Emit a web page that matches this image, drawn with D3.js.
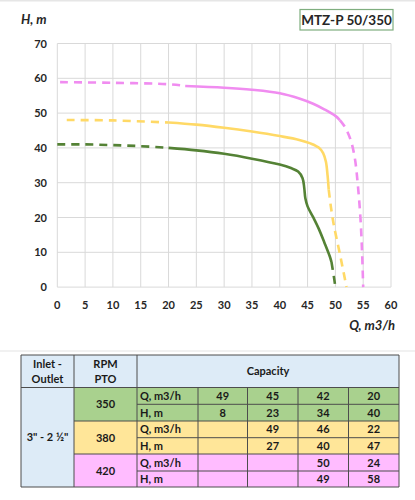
<!DOCTYPE html>
<html>
<head>
<meta charset="utf-8">
<script src="https://cdn.jsdelivr.net/npm/d3@7"></script>
<style>
  body { margin: 0; background: #fff; }
  text { font-family: Lato, "Open Sans", sans-serif; }
</style>
</head>
<body>
<div id="wrapper"></div>
<script>
// curve data, Q (m3/h) and H (m)
const green_dash1 = [[0,41],[5,41],[10,40.8],[15,40.5],[20,40]];
const green_solid = [[20,40],[25,39.3],[30,38.3],[35,36.9],[40,35.2],[42,34.2],[43.3,33.2],[44.1,31.3],[44.4,28.5],[44.6,25.5],[45,23.2],[46,20.1],[47,16.8],[48,12.9],[49,8.8],[49.3,7.2]];
const green_dash2 = [[49.3,7.2],[49.7,3.3],[50,0]];

const yellow_dash1 = [[1.7,48],[10,47.9],[20,47.3]];
const yellow_solid = [[20,47.3],[25,46.7],[30,45.8],[35,44.7],[40,43.4],[43.5,42.3],[45.5,41.3],[47,40.1],[47.8,38.5],[48.3,36],[48.6,32],[48.8,28]];
const yellow_dash2 = [[48.8,28],[49.2,23],[49.7,18],[50.8,9.6],[52,0]];

const pink_dash1 = [[0.5,58.9],[10,58.7],[20,58.3],[23,57.8]];
const pink_solid = [[23,57.8],[30,57.3],[35,56.7],[40,55.7],[43.5,54.2],[46,52.7],[48,51.1],[50,49.2],[50.8,48]];
const pink_dash2 = [[50.8,48],[51.8,45.8],[52.8,42],[53.5,37],[54,30],[54.5,20],[54.8,10],[55,0]];

const x_ticks = d3.range(0, 61, 5);
const y_ticks = d3.range(0, 71, 10);

// table values
const rpm = ["350", "380", "420"];
const q_rows = [[49,45,42,20],[null,49,46,22],[null,null,50,24]];
const h_rows = [[8,23,34,40],[null,27,40,47],[null,null,49,58]];

const dimension = {
    width: 415,
    height: 500,
    margin: { left: 57.3, right: 24, top: 43.5, bottom: 212.9 }
};

const svg = d3.select("#wrapper").append("svg")
    .attr("width", dimension.width).attr("height", dimension.height);

// faint frame lines of the original screenshot
svg.append("line").attr("x1", 0).attr("x2", 415).attr("y1", 0.5).attr("y2", 0.5)
    .attr("stroke", "#e6e6e6").attr("stroke-width", 2);
svg.append("line").attr("x1", 0).attr("x2", 415).attr("y1", 351).attr("y2", 351)
    .attr("stroke", "#ececec").attr("stroke-width", 1.5);

const x_scaler = d3.scaleLinear().domain([0, 60])
    .range([dimension.margin.left, dimension.width - dimension.margin.right]);
const y_scaler = d3.scaleLinear().domain([0, 70])
    .range([dimension.height - dimension.margin.bottom, dimension.margin.top]);

// grid
svg.append("g").selectAll("line").data(x_ticks).join("line")
    .attr("x1", d => x_scaler(d)).attr("x2", d => x_scaler(d))
    .attr("y1", y_scaler(0)).attr("y2", y_scaler(70))
    .attr("stroke", "#d9d9d9").attr("stroke-width", 1);
svg.append("g").selectAll("line").data(y_ticks).join("line")
    .attr("x1", x_scaler(0)).attr("x2", x_scaler(60))
    .attr("y1", d => y_scaler(d)).attr("y2", d => y_scaler(d))
    .attr("stroke", "#d9d9d9").attr("stroke-width", 1);

// tick labels
svg.append("g").selectAll("text").data(x_ticks).join("text")
    .attr("x", d => x_scaler(d)).attr("y", y_scaler(0) + 22)
    .attr("text-anchor", "middle")
    .style("font-size", "11px").style("font-weight", "bold").attr("fill", "#262626")
    .text(d => d);
svg.append("g").selectAll("text").data(y_ticks).join("text")
    .attr("x", 47).attr("y", d => y_scaler(d) + 4)
    .attr("text-anchor", "end")
    .style("font-size", "11px").style("font-weight", "bold").attr("fill", "#262626")
    .text(d => d);

// axis titles
svg.append("text").attr("x", 21).attr("y", 24)
    .style("font-size", "13px").style("font-weight", "bold").style("font-style", "italic")
    .attr("fill", "#262626").text("H, m");
svg.append("text").attr("x", 395).attr("y", 330).attr("text-anchor", "end")
    .style("font-size", "13px").style("font-weight", "bold").style("font-style", "italic")
    .attr("fill", "#262626").text("Q, m3/h");

// title box
svg.append("rect").attr("x", 300).attr("y", 9.5).attr("width", 93).attr("height", 20.5)
    .attr("fill", "#fff").attr("stroke", "#7fae7f").attr("stroke-width", 1.2);
svg.append("text").attr("x", 346.5).attr("y", 25).attr("text-anchor", "middle")
    .style("font-size", "13.5px").style("font-weight", "bold").attr("fill", "#262626")
    .text("MTZ-P 50/350");

// curves
const line = d3.line()
    .x(d => x_scaler(d[0]))
    .y(d => y_scaler(d[1]))
    .curve(d3.curveCatmullRom.alpha(0.5));

function draw(points, color, dashed) {
    svg.append("path")
        .attr("fill", "none")
        .attr("stroke", color)
        .attr("stroke-width", 2.6)
        .attr("stroke-dasharray", dashed ? "8,6" : null)
        .attr("d", line(points));
}

const pink = "#f08cf0", yellow = "#ffd966", green = "#548235";
draw(pink_dash1, pink, true);
draw(pink_solid, pink, false);
draw(pink_dash2, pink, true);
draw(yellow_dash1, yellow, true);
draw(yellow_solid, yellow, false);
draw(yellow_dash2, yellow, true);
draw(green_dash1, green, true);
draw(green_solid, green, false);
draw(green_dash2, green, true);

// table
const col_x = [21, 74, 137, 198, 247.5, 298, 348.5, 399];
const row_y = [355, 387.5, 404.3, 421, 437.7, 454, 471, 487];
const fills = ["#a9d18e", "#ffe699", "#ffbcff"];
const blue = "#ddebf7";

const table = svg.append("g");
const cell_text = (x, y, txt, anchor) => table.append("text")
    .attr("x", x).attr("y", y).attr("text-anchor", anchor || "middle")
    .style("font-size", "11px").style("font-weight", "bold").attr("fill", "#1a1a1a")
    .text(txt);

// header
table.append("rect").attr("x", col_x[0]).attr("y", row_y[0])
    .attr("width", col_x[7] - col_x[0]).attr("height", row_y[1] - row_y[0]).attr("fill", blue);
table.append("rect").attr("x", col_x[0]).attr("y", row_y[1])
    .attr("width", col_x[1] - col_x[0]).attr("height", row_y[7] - row_y[1]).attr("fill", blue);

rpm.forEach((r, i) => {
    table.append("rect").attr("x", col_x[1]).attr("y", row_y[1 + i * 2])
        .attr("width", col_x[7] - col_x[1]).attr("height", row_y[3 + i * 2] - row_y[1 + i * 2])
        .attr("fill", fills[i]);
});

// grid lines of the table
const border = "#4d4d4d";
const hline = (x1, x2, y) => table.append("line").attr("x1", x1).attr("x2", x2)
    .attr("y1", y).attr("y2", y).attr("stroke", border).attr("stroke-width", 1);
const vline = (x, y1, y2) => table.append("line").attr("x1", x).attr("x2", x)
    .attr("y1", y1).attr("y2", y2).attr("stroke", border).attr("stroke-width", 1);

hline(col_x[0], col_x[7], row_y[0]);
hline(col_x[0], col_x[7], row_y[1]);
hline(col_x[0], col_x[7], row_y[7]);
[3, 5].forEach(i => hline(col_x[1], col_x[7], row_y[i]));
[2, 4, 6].forEach(i => hline(col_x[2], col_x[7], row_y[i]));
vline(col_x[0], row_y[0], row_y[7]);
vline(col_x[1], row_y[0], row_y[7]);
vline(col_x[2], row_y[0], row_y[7]);
[3, 4, 5, 6].forEach(i => vline(col_x[i], row_y[1], row_y[7]));
vline(col_x[7], row_y[0], row_y[7]);

cell_text((col_x[0] + col_x[1]) / 2, 368, "Inlet -");
cell_text((col_x[0] + col_x[1]) / 2, 383, "Outlet");
cell_text((col_x[1] + col_x[2]) / 2, 368, "RPM");
cell_text((col_x[1] + col_x[2]) / 2, 383, "PTO");
cell_text((col_x[2] + col_x[7]) / 2, 375, "Capacity");
cell_text((col_x[0] + col_x[1]) / 2, (row_y[1] + row_y[7]) / 2 + 4, "3\" - 2 \u00bd\"");

rpm.forEach((r, i) => {
    const yq = row_y[1 + i * 2], yh = row_y[2 + i * 2], ye = row_y[3 + i * 2];
    cell_text((col_x[1] + col_x[2]) / 2, (yq + ye) / 2 + 4, r);
    cell_text(col_x[2] + 3, (yq + yh) / 2 + 4, "Q, m3/h", "start");
    cell_text(col_x[2] + 3, (yh + ye) / 2 + 4, "H, m", "start");
    q_rows[i].forEach((v, j) => {
        if (v !== null) cell_text((col_x[3 + j] + col_x[4 + j]) / 2, (yq + yh) / 2 + 4, v);
    });
    h_rows[i].forEach((v, j) => {
        if (v !== null) cell_text((col_x[3 + j] + col_x[4 + j]) / 2, (yh + ye) / 2 + 4, v);
    });
});
</script>
</body>
</html>
